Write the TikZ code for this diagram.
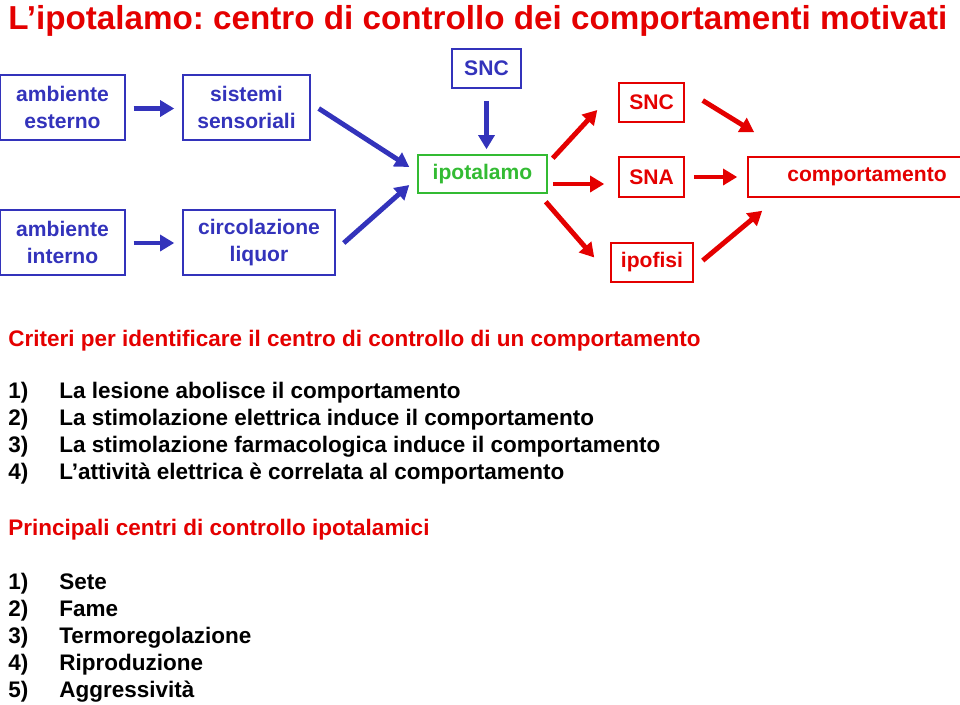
\documentclass[tikz,border=0pt]{standalone}
\usepackage{fontspec}
\setmainfont{Liberation Sans}
\usetikzlibrary{arrows.meta,calc}

\definecolor{ttlred}{RGB}{228,0,0}
\definecolor{boxblue}{RGB}{51,51,187}
\definecolor{boxgreen}{RGB}{51,187,51}

\tikzset{
  blk/.style={draw, line width=0.85pt, inner sep=0pt, align=center,
              font=\fontsize{12}{15.5}\selectfont\bfseries},
  bluebox/.style={blk, boxblue, text=boxblue},
  redbox/.style={blk, ttlred, text=ttlred},
  greenbox/.style={blk, boxgreen, text=boxgreen},
  fat/.style={line width=2.8pt, -{Triangle[length=8pt,width=9pt]}},
  bluearr/.style={fat, boxblue},
  redarr/.style={fat, ttlred},
  txt/.style={anchor=base west, inner sep=0pt},
  listtxt/.style={txt, font=\fontsize{12.8}{14}\selectfont\bfseries}
}

\begin{document}
\frenchspacing
\begin{tikzpicture}[x=0.02cm, y=-0.02cm]
  \useasboundingbox (0,0) rectangle (960,704);

  \node[txt, text=ttlred, font=\fontsize{18.9}{22}\selectfont\bfseries] (title) at (8,29)
       {L’ipotalamo: centro di controllo dei comportamenti motivati};

  % boxes
  \node[bluebox, minimum width=125*0.02cm, minimum height=65*0.02cm] (ambEst) at (62.5,107.5) {ambiente\\esterno};
  \node[bluebox, minimum width=127*0.02cm, minimum height=65*0.02cm] (sisSens) at (246.5,107.5) {sistemi\\sensoriali};
  \node[bluebox, minimum width=125*0.02cm, minimum height=65*0.02cm] (ambInt) at (62.5,242.5) {ambiente\\interno};
  \node[bluebox, minimum width=152*0.02cm, minimum height=65*0.02cm] (circ) at (259,242.5) {circolazione\\liquor};
  \node[bluebox, minimum width=69*0.02cm, minimum height=39*0.02cm] (sncIn) at (486.5,68.5) {SNC};
  \node[greenbox, minimum width=129*0.02cm, minimum height=38*0.02cm] (ipot) at (482.5,174) {ipotalamo};
  \node[redbox, minimum width=65*0.02cm, minimum height=39*0.02cm] (sncOut) at (651.5,102.5) {SNC};
  \node[redbox, minimum width=65*0.02cm, minimum height=40*0.02cm] (sna) at (651.5,177) {SNA};
  \node[redbox, minimum width=82*0.02cm, minimum height=39*0.02cm] (ipof) at (652,262.5) {ipofisi};
  \node[redbox, minimum width=238*0.02cm, minimum height=40*0.02cm] (comp) at (867,177) {comportamento};

  % inputs
  \draw[bluearr] ($(ambEst.east)+(8,1)$) -- ($(sisSens.west)+(-8,1)$);
  \draw[bluearr] ($(ambInt.east)+(8,0.5)$) -- ($(circ.west)+(-8,0.5)$);
  \draw[bluearr] ($(sisSens.east)+(8,1)$) -- ($(ipot.west)+(-8,-7)$);
  \draw[bluearr] ($(circ.east)+(8,0.5)$) -- ($(ipot.west)+(-8,11)$);
  \draw[bluearr] ($(sncIn.south)+(0,12)$) -- ($(sncIn.south |- ipot.north)+(0,-5)$);

  % outputs
  \draw[redarr] ($(ipot.north east)+(5,4)$) -- ($(sncOut.west)+(-21,7.5)$);
  \draw[redarr] ($(ipot.east)+(5,10)$) -- ($(sna.west)+(-14,7)$);
  \draw[redarr] ($(ipot.south east)+(-2,8)$) -- ($(ipof.west)+(-16,-5)$);
  \draw[redarr] ($(sncOut.east)+(18,-2)$) -- ($(comp.north west)+(7,-24)$);
  \draw[redarr] ($(sna.east)+(9,0)$) -- ($(comp.west)+(-10,0)$);
  \draw[redarr] ($(ipof.east)+(9,-2)$) -- ($(comp.south west)+(15,13)$);

  % criteri
  \node[listtxt, text=ttlred] (crit) at (8,346)
       {Criteri per identificare il centro di controllo di un comportamento};
  \foreach \n/\t [count=\i] in {1/La lesione abolisce il comportamento,
      2/La stimolazione elettrica induce il comportamento,
      3/La stimolazione farmacologica induce il comportamento,
      4/L’attività elettrica è correlata al comportamento}{
    \node[listtxt] (critN\i) at (8,371+27*\i) {\n)};
    \node[listtxt] (critT\i) at (59,371+27*\i) {\t};
  }

  % centri
  \node[listtxt, text=ttlred] (princ) at (8,535)
       {Principali centri di controllo ipotalamici};
  \foreach \n/\t [count=\i] in {1/Sete, 2/Fame, 3/Termoregolazione,
      4/Riproduzione, 5/Aggressività}{
    \node[listtxt] (centN\i) at (8,562+27*\i) {\n)};
    \node[listtxt] (centT\i) at (59,562+27*\i) {\t};
  }
\end{tikzpicture}
\end{document}
